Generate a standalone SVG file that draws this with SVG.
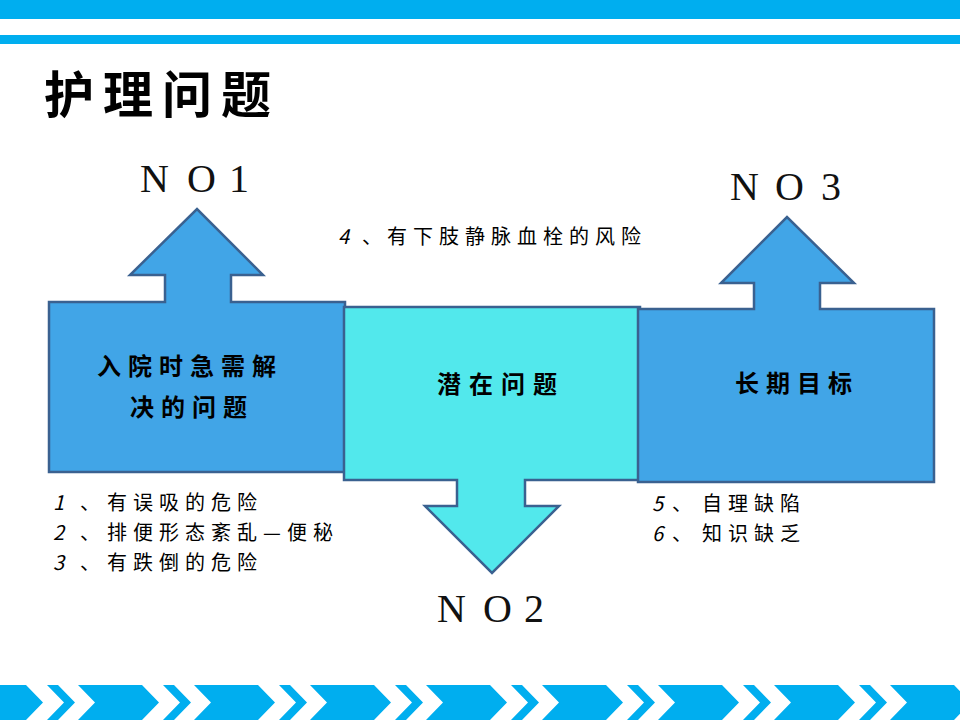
<svg xmlns="http://www.w3.org/2000/svg" width="960" height="720" viewBox="0 0 960 720">
<style>
.bar{fill:#00AEEF}
.shp{stroke:#3A6190;stroke-width:2.5;stroke-linejoin:miter}
.blue{fill:#41A5E7}
.cyan{fill:#52E8EC}
.no{font-family:"Liberation Serif",serif;font-size:40px;fill:#111}
.cn{font-family:"Noto Sans CJK SC","Noto Sans CJK JP",sans-serif;fill:#000}
.title{font-size:50px;font-weight:bold;letter-spacing:9px}
.lbl{font-size:24px;font-weight:bold;letter-spacing:7px}
.lst{font-size:20px;letter-spacing:6px}
.d{font-style:italic}
</style>
<defs>
<polygon id="big" points="0,685 64,685 81,702.5 64,720 0,720 17,702.5"/>
<polygon id="thin" points="0,685 11,685 28,702.5 11,720 0,720 17,702.5"/>
</defs>
<rect width="960" height="720" fill="#fff"/>
<g id="top-bars">
<rect class="bar" x="0" y="0" width="960" height="19"/>
<rect class="bar" x="0" y="35" width="960" height="9"/>
</g>
<g id="bottom-chevrons" class="bar">
<use href="#big" x="-38"/><use href="#thin" x="47"/>
<use href="#big" x="78"/><use href="#thin" x="163"/>
<use href="#big" x="194"/><use href="#thin" x="279"/>
<use href="#big" x="310"/><use href="#thin" x="395"/>
<use href="#big" x="426"/><use href="#thin" x="511"/>
<use href="#big" x="542"/><use href="#thin" x="627"/>
<use href="#big" x="658"/><use href="#thin" x="743"/>
<use href="#big" x="774"/><use href="#thin" x="859"/>
<use href="#big" x="890"/>
</g>
<g id="title"><text class="cn title" x="44" y="113">护理问题</text></g>
<g id="node-no1">
<polygon class="shp blue" points="49,302 165,302 165,275 130,275 197,209 263,275 231,275 231,302 345,302 345,472 49,472"/>
<text class="cn lbl" x="97" y="375">入院时急需解</text>
<text class="cn lbl" x="130" y="416">决的问题</text>
<text class="no" x="140 187 229" y="192">NO1</text>
</g>
<g id="node-no2">
<polygon class="shp cyan" points="344,307 640,307 640,480 525,480 525,506 559,506 492,573 425,506 457,506 457,480 344,480"/>
<text class="cn lbl" x="437" y="393" style="letter-spacing:8px">潜在问题</text>
<text class="no" x="437 483 524" y="622">NO2</text>
</g>
<g id="node-no3">
<polygon class="shp blue" points="638,309 754,309 754,283 721,283 787,217 854,283 820,283 820,309 934,309 934,482 638,482"/>
<text class="cn lbl" x="735" y="392">长期目标</text>
<text class="no" x="730 775 821" y="200">NO3</text>
</g>
<g id="notes" class="cn lst">
<text x="338" y="244"><tspan class="d">4</tspan><tspan x="362">、</tspan><tspan x="387">有下肢静脉血栓的风险</tspan></text>
<text x="53" y="510"><tspan class="d">1</tspan><tspan x="80">、</tspan><tspan x="107">有误吸的危险</tspan></text>
<text x="53" y="540"><tspan class="d">2</tspan><tspan x="80">、</tspan><tspan x="107">排便形态紊乱—便秘</tspan></text>
<text x="53" y="570"><tspan class="d">3</tspan><tspan x="80">、</tspan><tspan x="107">有跌倒的危险</tspan></text>
<text x="652" y="511"><tspan class="d">5</tspan><tspan x="672">、</tspan><tspan x="702">自理缺陷</tspan></text>
<text x="652" y="541"><tspan class="d">6</tspan><tspan x="672">、</tspan><tspan x="702">知识缺乏</tspan></text>
</g>
</svg>
